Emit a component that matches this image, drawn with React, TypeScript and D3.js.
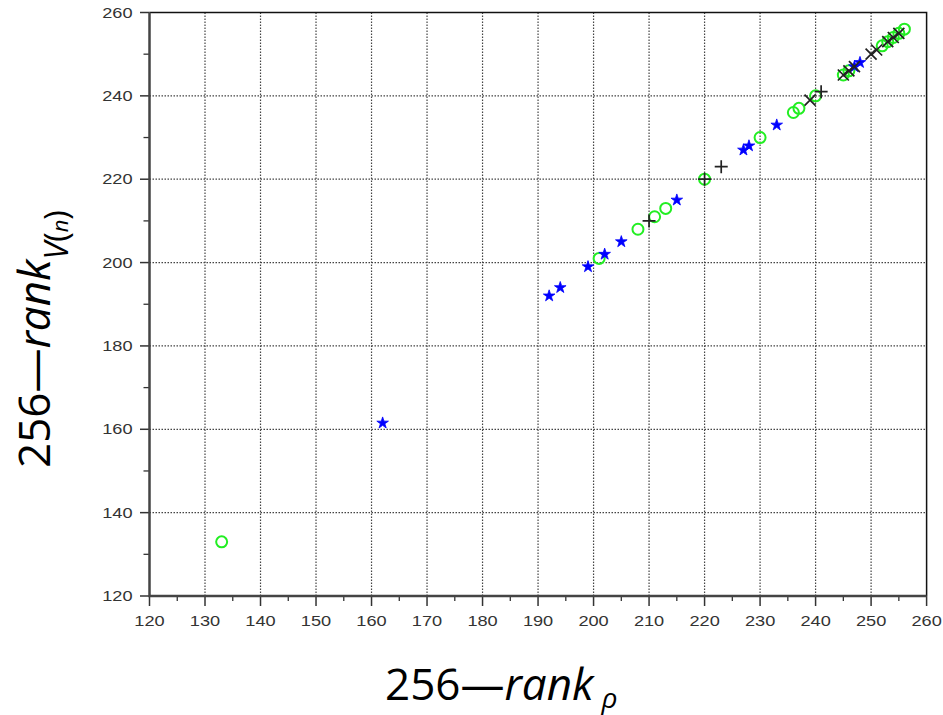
import React, { useRef, useEffect } from 'react'
import * as d3 from 'd3'

// [x, y] pairs (256 - rank_rho, 256 - rank_V(n))
const circlePts: [number, number][] = [
  [133, 133], [201, 201], [208, 208], [211, 211], [213, 213], [220, 220],
  [230, 230], [236, 236], [237, 237], [240, 240], [245, 245], [246, 246],
  [252, 252], [253, 253], [254, 254], [255, 255], [256, 256],
]
const starPts: [number, number][] = [
  [162, 161.5], [192, 192], [194, 194], [199, 199], [202, 202], [205, 205],
  [215, 215], [227, 227], [228, 228], [233, 233], [247, 247], [248, 248],
]
const plusPts: [number, number][] = [[210, 210], [220, 220], [223, 223], [241, 241]]
const crossPts: [number, number][] = [
  [239, 239], [245, 245], [246, 246], [247, 247], [250, 250], [251, 251],
  [253, 253], [254, 254], [255, 255],
]

const xTicks = d3.range(120, 261, 10)
const xMinor = d3.range(125, 260, 10)
const yTicks = d3.range(120, 261, 20)
const yMinor = d3.range(130, 260, 20)

const W = 943
const H = 715
const margin = { top: 12.5, right: 16.4, bottom: 119, left: 149.5 }

const App: React.FC = () => {
  const svgRef = useRef<SVGSVGElement | null>(null)

  useEffect(() => {
    if (!svgRef.current) return
    const svg = d3.select(svgRef.current)
    svg.selectAll('*').remove()

    const iw = W - margin.left - margin.right
    const ih = H - margin.top - margin.bottom

    const x = d3.scaleLinear().domain([120, 260]).range([0, iw])
    const y = d3.scaleLinear().domain([120, 260]).range([ih, 0])

    const g = svg.append('g').attr('transform', `translate(${margin.left},${margin.top})`)

    // dotted grid
    g.selectAll('.gx')
      .data(xTicks.slice(1, -1))
      .join('line')
      .attr('x1', d => x(d)).attr('x2', d => x(d))
      .attr('y1', 0).attr('y2', ih)
      .attr('stroke', '#444').attr('stroke-width', 1.2)
      .attr('stroke-dasharray', '1.5,1.5')
    g.selectAll('.gy')
      .data(yTicks.slice(1, -1))
      .join('line')
      .attr('y1', d => y(d)).attr('y2', d => y(d))
      .attr('x1', 0).attr('x2', iw)
      .attr('stroke', '#444').attr('stroke-width', 1.2)
      .attr('stroke-dasharray', '1.5,1.5')

    // frame top/right
    g.append('path')
      .attr('d', `M0,0H${iw}V${ih}`)
      .attr('fill', 'none').attr('stroke', '#111').attr('stroke-width', 1.5)

    // ticks
    g.selectAll('.tx')
      .data(xTicks)
      .join('line')
      .attr('x1', d => x(d)).attr('x2', d => x(d))
      .attr('y1', ih).attr('y2', ih + 10)
      .attr('stroke', '#333').attr('stroke-width', 1.5)
    g.selectAll('.mx')
      .data(xMinor)
      .join('line')
      .attr('x1', d => x(d)).attr('x2', d => x(d))
      .attr('y1', ih).attr('y2', ih + 5)
      .attr('stroke', '#333').attr('stroke-width', 1.3)
    g.selectAll('.ty')
      .data(yTicks)
      .join('line')
      .attr('y1', d => y(d)).attr('y2', d => y(d))
      .attr('x1', -9.5).attr('x2', 0)
      .attr('stroke', '#333').attr('stroke-width', 1.5)
    g.selectAll('.my')
      .data(yMinor)
      .join('line')
      .attr('y1', d => y(d)).attr('y2', d => y(d))
      .attr('x1', -6).attr('x2', 0)
      .attr('stroke', '#333').attr('stroke-width', 1.3)

    // axis lines
    g.append('path')
      .attr('d', `M0,0V${ih}H${iw}`)
      .attr('fill', 'none').attr('stroke', '#444').attr('stroke-width', 2.5)

    // tick labels
    g.selectAll('.lx')
      .data(xTicks)
      .join('text')
      .attr('transform', d => `translate(${x(d)},${ih + 30}) scale(1.3,1)`)
      .attr('text-anchor', 'middle')
      .style('font-family', 'Liberation Sans, Arial, sans-serif')
      .style('font-size', '14px')
      .attr('fill', '#333')
      .text(d => d)
    g.selectAll('.ly')
      .data(yTicks)
      .join('text')
      .attr('transform', d => `translate(-17,${y(d) + 5}) scale(1.3,1)`)
      .attr('text-anchor', 'end')
      .style('font-family', 'Liberation Sans, Arial, sans-serif')
      .style('font-size', '14px')
      .attr('fill', '#333')
      .text(d => d)

    // markers
    g.selectAll('.circ')
      .data(circlePts)
      .join('circle')
      .attr('cx', d => x(d[0])).attr('cy', d => y(d[1]))
      .attr('r', 5.5)
      .attr('fill', 'none').attr('stroke', '#22ee22').attr('stroke-width', 2)

    const star = d3.symbol().type(d3.symbolStar).size(42)
    g.selectAll('.star')
      .data(starPts)
      .join('path')
      .attr('transform', d => `translate(${x(d[0])},${y(d[1])})`)
      .attr('d', star()!)
      .attr('fill', '#0000ff').attr('stroke', '#0000ff').attr('stroke-width', 0.8)

    g.selectAll('.plus')
      .data(plusPts)
      .join('path')
      .attr('transform', d => `translate(${x(d[0])},${y(d[1])})`)
      .attr('d', 'M-6.5,0H6.5M0,-6.5V6.5')
      .attr('stroke', '#222').attr('stroke-width', 1.7)

    g.selectAll('.cross')
      .data(crossPts)
      .join('path')
      .attr('transform', d => `translate(${x(d[0])},${y(d[1])})`)
      .attr('d', 'M-5.5,-5.5L5.5,5.5M-5.5,5.5L5.5,-5.5')
      .attr('stroke', '#222').attr('stroke-width', 1.7)

    // axis titles
    const xt = svg.append('text')
      .attr('x', 385).attr('y', 700)
      .style('font-family', 'Open Sans, sans-serif')
      .style('font-size', '44px')
      .attr('fill', '#000')
    xt.append('tspan').text('256—')
    xt.append('tspan').attr('font-style', 'italic').text('rank')
    xt.append('tspan').attr('font-style', 'italic').attr('font-size', '28px')
      .attr('dx', 8).attr('dy', 8).text('ρ')

    const yt = svg.append('text')
      .attr('transform', 'translate(50,468) rotate(-90)')
      .style('font-family', 'Open Sans, sans-serif')
      .style('font-size', '44px')
      .attr('fill', '#000')
    yt.append('tspan').text('256—')
    yt.append('tspan').attr('font-style', 'italic').text('rank')
    yt.append('tspan').attr('font-style', 'italic').attr('font-size', '32px')
      .attr('dy', 18).text('V')
    yt.append('tspan').attr('font-size', '32px').text('(')
    yt.append('tspan').attr('font-style', 'italic').attr('font-size', '22px').text('n')
    yt.append('tspan').attr('font-size', '32px').text(')')
  }, [])

  return (
    <svg
      ref={svgRef}
      width={W}
      height={H}
      style={{ position: 'absolute', left: 0, top: 0, background: '#fff' }}
    />
  )
}

export default App
